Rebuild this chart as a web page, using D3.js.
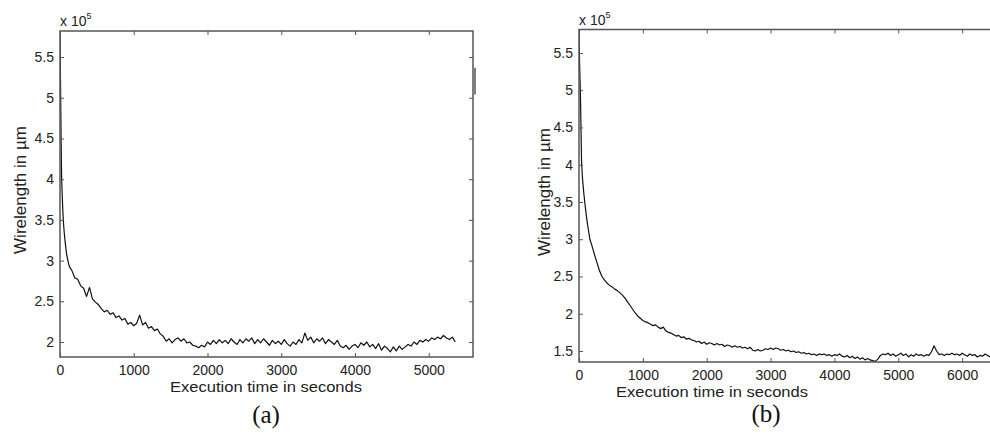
<!DOCTYPE html>
<html>
<head>
<meta charset="utf-8">
<script src="https://cdn.jsdelivr.net/npm/d3@7"></script>
<style>
  html, body { margin: 0; padding: 0; background: #fff; }
  svg { display: block; }
  text { font-family: "Liberation Sans", Arial, Helvetica, sans-serif; }
</style>
</head>
<body>
<svg id="chart" width="990" height="435"></svg>
<script>
// ---------------- DATA ----------------
// Panel (a)
const xTicksA = [0, 1000, 2000, 3000, 4000, 5000];
const yTicksA = [2, 2.5, 3, 3.5, 4, 4.5, 5, 5.5];
const headTimesA  = [0, 4, 8, 12, 16, 22, 30, 38, 46, 55, 65, 75, 88, 100, 115, 130, 145];
const headValuesA = [5.80, 5.45, 5.10, 4.75, 4.42, 4.02, 3.80, 3.62, 3.48, 3.37, 3.27, 3.19, 3.09, 3.03, 2.97, 2.92, 2.90];
const tailStartA = 160, tailStepA = 40;
const tailValuesA = [
  2.88, 2.79, 2.77, 2.69, 2.66, 2.56, 2.67, 2.53, 2.49, 2.46,
  2.41, 2.37, 2.39, 2.34, 2.36, 2.30, 2.32, 2.27, 2.29, 2.22,
  2.24, 2.20, 2.23, 2.33, 2.21, 2.24, 2.17, 2.19, 2.14, 2.16,
  2.10, 2.07, 2.01, 2.04, 1.99, 2.03, 2.05, 2.01, 2.04, 1.99,
  2.00, 1.96, 1.95, 1.93, 1.96, 1.94, 2.00, 1.97, 2.02, 1.98,
  2.03, 1.99, 2.02, 1.98, 2.04, 2.00, 1.97, 2.03, 1.99, 2.04,
  2.01, 2.05, 1.98, 2.03, 1.99, 2.04, 2.00, 1.96, 2.02, 1.98,
  2.01, 1.97, 2.03, 1.98, 1.95, 2.00, 1.97, 2.03, 1.99, 2.11,
  2.02, 2.06, 1.99, 2.04, 2.01, 2.05, 1.98, 2.03, 2.00, 1.97,
  2.02, 1.95, 1.93, 1.96, 1.91, 1.95, 1.97, 1.93, 1.99, 1.96,
  2.00, 1.94, 1.97, 1.92, 1.98, 1.90, 1.95, 1.92, 1.88, 1.94,
  1.89, 1.95, 1.91, 1.94, 1.97, 1.95, 2.00, 1.97, 2.02, 2.00,
  2.03, 2.01, 2.05, 2.03, 2.06, 2.04, 2.08, 2.05, 2.03, 2.06,
  2.00
];

// Panel (b)
const xTicksB = [0, 1000, 2000, 3000, 4000, 5000, 6000];
const yTicksB = [1.5, 2, 2.5, 3, 3.5, 4, 4.5, 5, 5.5];
const headTimesB  = [0, 5, 10, 15, 20, 25, 30, 40, 50, 60, 75, 90, 110, 130, 150, 170];
const headValuesB = [5.80, 5.55, 5.35, 5.18, 5.02, 4.80, 4.55, 4.05, 3.88, 3.76, 3.62, 3.50, 3.35, 3.22, 3.11, 3.00];
const tailStartB = 200, tailStepB = 40;
const tailValuesB = [
  2.92, 2.80, 2.69, 2.58, 2.50, 2.45, 2.41, 2.38, 2.36, 2.33,
  2.31, 2.28, 2.25, 2.21, 2.16, 2.11, 2.06, 2.01, 1.97, 1.94,
  1.91, 1.89, 1.88, 1.86, 1.84, 1.85, 1.82, 1.80, 1.82, 1.77,
  1.75, 1.74, 1.72, 1.70, 1.71, 1.68, 1.69, 1.66, 1.67, 1.65,
  1.64, 1.62, 1.63, 1.60, 1.62, 1.59, 1.61, 1.60, 1.58, 1.60,
  1.58, 1.59, 1.56, 1.58, 1.57, 1.55, 1.57, 1.55, 1.56, 1.54,
  1.55, 1.53, 1.55, 1.51, 1.50, 1.52, 1.50, 1.51, 1.53, 1.52,
  1.54, 1.52, 1.54, 1.53, 1.51, 1.52, 1.50, 1.51, 1.49, 1.50,
  1.48, 1.49, 1.47, 1.48, 1.46, 1.47, 1.45, 1.46, 1.44, 1.46,
  1.45, 1.46, 1.44, 1.45, 1.43, 1.45, 1.44, 1.46, 1.43, 1.42,
  1.44, 1.41, 1.43, 1.40, 1.42, 1.39, 1.41, 1.38, 1.40, 1.38,
  1.37, 1.36, 1.39, 1.44, 1.46, 1.45, 1.47, 1.44, 1.46, 1.43,
  1.45, 1.47, 1.44, 1.46, 1.42, 1.45, 1.43, 1.46, 1.44, 1.45,
  1.43, 1.45, 1.44, 1.49, 1.57, 1.50, 1.45, 1.46, 1.44, 1.46,
  1.45, 1.47, 1.45, 1.46, 1.44, 1.47, 1.45, 1.43, 1.46, 1.44,
  1.45, 1.42, 1.44, 1.43, 1.46, 1.44, 1.42, 1.43
];

const yLabel = "Wirelength in µm";
const xLabel = "Execution time in seconds";
const captions = ["(a)", "(b)"];

// ---------------- DRAW ----------------
const svg = d3.select("#chart");
const AXIS = "#555", TXT = "#222";

function buildSeries(headT, headV, start, step, tail) {
  const pts = headT.map((t, i) => [t, headV[i]]);
  tail.forEach((v, i) => pts.push([start + i * step, v]));
  return pts;
}

function panel(cfg) {
  const x = d3.scaleLinear().domain(cfg.xDomain).range([cfg.left, cfg.right]);
  const y = d3.scaleLinear().domain(cfg.yDomain).range([cfg.bottom, cfg.top]);
  const g = svg.append("g");

  const clipId = "clip" + cfg.id;
  svg.append("clipPath").attr("id", clipId).append("rect")
    .attr("x", cfg.left).attr("y", cfg.top)
    .attr("width", cfg.right - cfg.left).attr("height", cfg.bottom - cfg.top);

  g.append("path")
    .datum(cfg.data)
    .attr("clip-path", `url(#${clipId})`)
    .attr("fill", "none").attr("stroke", "#111").attr("stroke-width", 1.2)
    .attr("stroke-linejoin", "round")
    .attr("d", d3.line().x(d => x(d[0])).y(d => y(d[1])));

  const style = sel => {
    sel.select(".domain").remove();
    sel.selectAll(".tick line").attr("stroke", AXIS).attr("stroke-width", 1);
    sel.selectAll(".tick text").attr("fill", TXT).attr("font-size", 14)
      .style("font-family", '"Liberation Sans", Arial, sans-serif');
  };

  g.append("g").attr("transform", `translate(0,${cfg.bottom})`)
    .call(d3.axisBottom(x).tickValues(cfg.xTicks).tickSizeInner(-4).tickSizeOuter(0)
      .tickPadding(8).tickFormat(d => String(d)))
    .call(style);
  g.append("g").attr("transform", `translate(0,${cfg.top})`)
    .call(d3.axisTop(x).tickValues(cfg.xTicks).tickSizeInner(-4).tickSizeOuter(0).tickFormat(""))
    .call(style);
  g.append("g").attr("transform", `translate(${cfg.left},0)`)
    .call(d3.axisLeft(y).tickValues(cfg.yTicks).tickSizeInner(-4).tickSizeOuter(0)
      .tickPadding(6).tickFormat(d => String(d)))
    .call(style);
  g.append("g").attr("transform", `translate(${cfg.right},0)`)
    .call(d3.axisRight(y).tickValues(cfg.yTicks).tickSizeInner(-4).tickSizeOuter(0).tickFormat(""))
    .call(style);

  g.append("rect")
    .attr("x", cfg.left).attr("y", cfg.top)
    .attr("width", cfg.right - cfg.left).attr("height", cfg.bottom - cfg.top)
    .attr("fill", "none").attr("stroke", AXIS).attr("stroke-width", 1.5);

  const ex = g.append("text").attr("x", cfg.left).attr("y", cfg.top - 5)
    .attr("font-size", 14).attr("fill", TXT);
  ex.append("tspan").text("x 10");
  ex.append("tspan").attr("font-size", 9).attr("dy", -7).text("5");

  g.append("text")
    .attr("transform", `translate(${cfg.ylabelX},${cfg.ylabelY}) rotate(-90)`)
    .attr("text-anchor", "middle").attr("font-size", 17).attr("fill", TXT)
    .text(yLabel);
  g.append("text")
    .attr("x", cfg.xlabelX).attr("y", cfg.xlabelY)
    .attr("text-anchor", "middle").attr("font-size", 15).attr("fill", TXT)
    .attr("textLength", 192).attr("lengthAdjust", "spacingAndGlyphs")
    .text(xLabel);

  g.append("text")
    .attr("x", cfg.capX).attr("y", cfg.capY)
    .attr("text-anchor", "middle").attr("font-size", 25).attr("fill", "#111")
    .style("font-family", '"Liberation Serif", "Times New Roman", serif')
    .text(cfg.caption);
  return { x, y, g };
}

const pA = panel({
  id: "A", left: 60, right: 473, top: 31, bottom: 357,
  xDomain: [0, 5600], yDomain: [1.816, 5.82],
  xTicks: xTicksA, yTicks: yTicksA,
  data: buildSeries(headTimesA, headValuesA, tailStartA, tailStepA, tailValuesA),
  ylabelX: 26, ylabelY: 190, xlabelX: 266, xlabelY: 392,
  caption: captions[0], capX: 266, capY: 423
});
pA.g.append("line")
  .attr("x1", 475).attr("x2", 475)
  .attr("y1", pA.y(5.37)).attr("y2", pA.y(5.04))
  .attr("stroke", AXIS).attr("stroke-width", 1.5);

panel({
  id: "B", left: 579, right: 1026, top: 29.5, bottom: 362,
  xDomain: [0, 7000], yDomain: [1.352, 5.815],
  xTicks: xTicksB, yTicks: yTicksB,
  data: buildSeries(headTimesB, headValuesB, tailStartB, tailStepB, tailValuesB),
  ylabelX: 550, ylabelY: 192, xlabelX: 712, xlabelY: 397,
  caption: captions[1], capX: 766, capY: 422
});
</script>
</body>
</html>
